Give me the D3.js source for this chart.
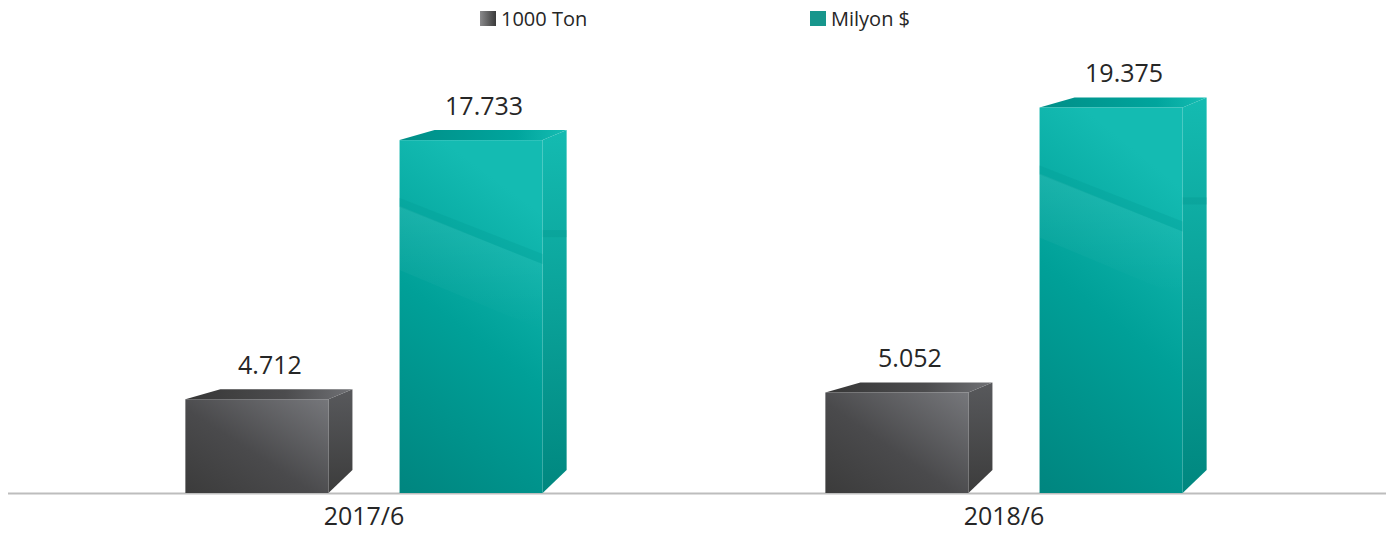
<!DOCTYPE html>
<html><head><meta charset="utf-8">
<script src="https://cdn.jsdelivr.net/npm/d3@7"></script>
<style>body{margin:0;background:#fff}svg{display:block}text{font-family:"Open Sans",sans-serif;fill:#262626}</style>
</head><body><svg id="c" width="1397" height="540"></svg>
<script>
const categories = ["2017/6", "2018/6"];
const seriesNames = ["1000 Ton", "Milyon $"];
const tonValues = [4712, 5052];
const usdValues = [17733, 19375];
const valueLabels = [["4.712", "17.733"], ["5.052", "19.375"]];

const W = 1397, H = 540, base = 493;
const svg = d3.select("#c");
const defs = svg.append("defs");
function lg(id, x1, y1, x2, y2, stops){
  const g = defs.append("linearGradient").attr("id", id).attr("x1", x1).attr("y1", y1).attr("x2", x2).attr("y2", y2);
  stops.forEach(s => g.append("stop").attr("offset", s[0]).attr("stop-color", s[1]).attr("stop-opacity", s[2] === undefined ? 1 : s[2]));
}
lg("gFront", 0, 1, 1, 0, [[0, "#3b3b3b"], [0.45, "#4a4a4c"], [1, "#76777b"]]);
lg("gTop", 0, 0, 1, 0, [[0, "#363636"], [0.6, "#4c4c4e"], [1, "#707175"]]);
lg("gSide", 0, 0, 0, 1, [[0, "#58595c"], [1, "#3c3c3c"]]);
lg("tFront", 0, 1, 0.3, 0, [[0, "#00857f"], [0.55, "#00a098"], [1, "#14bbb2"]]);
lg("tTop", 0, 0, 1, 0, [[0, "#008e87"], [0.7, "#00a59d"], [1, "#16bdb3"]]);
lg("tSide", 0, 0, 0, 1, [[0, "#14bbb1"], [1, "#00877f"]]);
lg("tGloss", 0, 0, 0, 1, [[0, "#ffffff", 0.07], [1, "#ffffff", 0]]);
lg("legG", 0, 0, 1, 0, [[0, "#8a8a8c"], [1, "#3a3a3a"]]);

const x0 = d3.scaleBand().domain(categories).range([44, 1324]).padding(0);
const x1 = d3.scaleBand().domain(seriesNames).range([0, x0.bandwidth()]).paddingInner(0.332).paddingOuter(0.66);
const y = d3.scaleLinear().domain([0, 20000]).range([base, base - 398]);

// axis
const axis = svg.append("g").attr("transform", `translate(0,${base})`)
  .call(d3.axisBottom(x0).tickSize(0).tickPadding(14));
axis.select(".domain").remove();
axis.selectAll("text").style("font-size", "25px").style("font-family", "'Open Sans',sans-serif").attr("fill", "#262626");
svg.append("line").attr("x1", 8).attr("x2", 1386).attr("y1", base + 0.5).attr("y2", base + 0.5)
  .attr("stroke", "#bdbdbd").attr("stroke-width", 2);

const rows = [];
categories.forEach((c, i) => {
  rows.push({cat: c, s: seriesNames[0], v: tonValues[i], label: valueLabels[i][0], kind: "g"});
  rows.push({cat: c, s: seriesNames[1], v: usdValues[i], label: valueLabels[i][1], kind: "t"});
});

const dxL = 35, dxR = 24, dy = 10, bd = 23;
rows.forEach(r => {
  const xl = x0(r.cat) + x1(r.s), xr = xl + x1.bandwidth(), top = y(r.v);
  const g = svg.append("g");
  const f = r.kind === "g" ? "g" : "t";
  g.append("path").attr("d", `M${xr},${top}L${xr + dxR},${top - dy}L${xr + dxR},${base - bd}L${xr},${base}Z`)
    .attr("fill", `url(#${f}Side)`);
  g.append("path").attr("d", `M${xl},${top}L${xl + dxL},${top - dy}L${xr + dxR},${top - dy}L${xr},${top}Z`)
    .attr("fill", `url(#${f}Top)`);
  g.append("rect").attr("x", xl).attr("y", top).attr("width", xr - xl).attr("height", base - top)
    .attr("fill", `url(#${f}Front)`);
  if (r.kind === "t") {
    g.append("path").attr("d", `M${xl},${top + 66}L${xr},${top + 124}L${xr},${top + 190}L${xl},${top + 130}Z`)
      .attr("fill", "url(#tGloss)");
    g.append("path").attr("d", `M${xl},${top + 58}L${xr},${top + 114}L${xr},${top + 124}L${xl},${top + 67}Z`)
      .attr("fill", "#009a92").attr("opacity", 0.28);
    g.append("rect").attr("x", xr).attr("y", top + 90).attr("width", dxR).attr("height", 7)
      .attr("fill", "#008e87").attr("opacity", 0.25);
  }
  svg.append("text").attr("x", (xl + xr + dxR) / 2 + 1).attr("y", top - 25)
    .attr("text-anchor", "middle").style("font-size", "25px").text(r.label);
});

// legend
const legend = [{name: seriesNames[0], x: 480, fill: "url(#legG)"}, {name: seriesNames[1], x: 810, fill: "#17968c"}];
legend.forEach(l => {
  svg.append("rect").attr("x", l.x).attr("y", 11).attr("width", 16).attr("height", 15).attr("fill", l.fill);
  svg.append("text").attr("x", l.x + 21).attr("y", 26).style("font-size", "20px").text(l.name);
});
</script></body></html>
